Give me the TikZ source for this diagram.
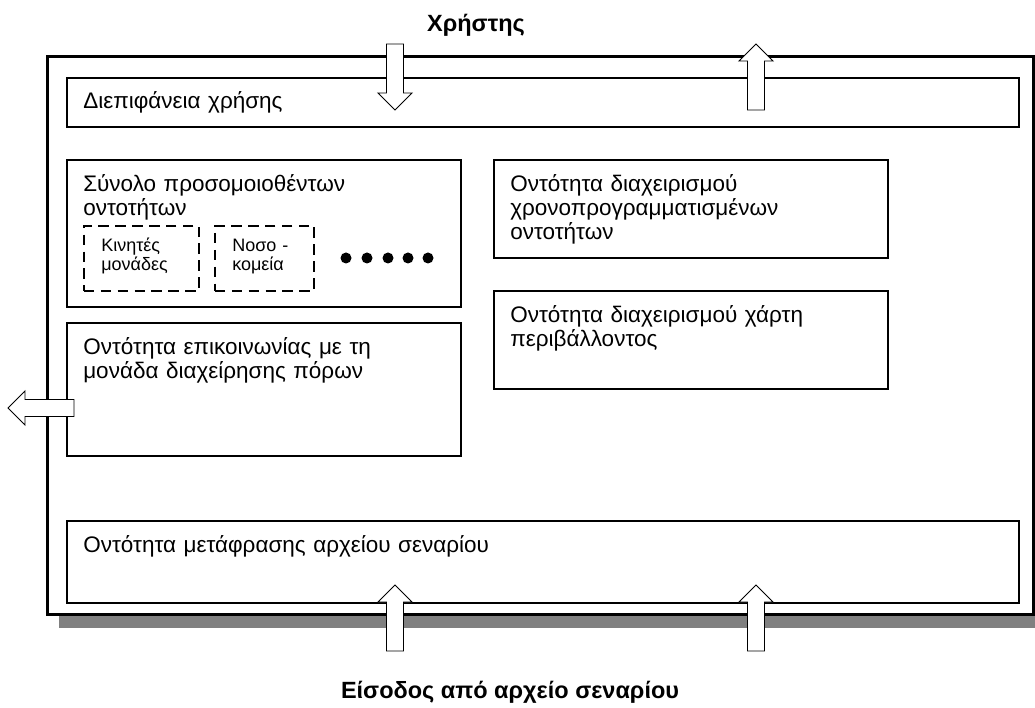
\documentclass[tikz,border=0pt]{standalone}
\usepackage{fontspec}
\setmainfont{Liberation Sans}
\usepackage{xcolor}
\usepackage{tikz}
\usetikzlibrary{positioning,calc}
\definecolor{frInk}{HTML}{000000}
\definecolor{frShadow}{HTML}{808080}
\newcommand{\px}{0.025cm}
\newcommand{\fatarrow}[2]{%
  \draw[fatarr,shift={#1},rotate=#2] (0,0) -- (-17,17) -- (-17,8.5) -- (-66,8.5)
    -- (-66,-8.5) -- (-17,-8.5) -- (-17,-17) -- cycle;}
\tikzset{
  framebox/.style={rectangle,anchor=north west,inner sep=0pt,
    draw=frInk,fill=white,line width=2.1pt},
  ebox/.style={rectangle,anchor=north west,inner sep=0pt,
    draw=frInk,fill=white,line width=1.3pt},
  dbox/.style={rectangle,anchor=north west,inner sep=0pt,
    draw=frInk,line width=1.3pt,dash pattern=on 7.5pt off 4.5pt},
  etxt/.style={anchor=base west,inner sep=0pt,align=left,
    text width=800*\px,font=\fontsize{16}{17}\selectfont,text=frInk},
  stxt/.style={anchor=base west,inner sep=0pt,align=left,
    text width=90*\px,font=\fontsize{12.8}{13}\selectfont,text=frInk},
  lbl/.style={inner sep=0pt,font=\fontsize{16.7}{20}\selectfont\bfseries,text=frInk},
  fatarr/.style={draw=frInk,fill=white,line width=0.7pt,line join=miter},
}

\begin{document}
\begin{tikzpicture}[x=0.025cm,y=-0.025cm]
  \useasboundingbox (0,0) rectangle (1035,708);

  \fill[frShadow] (59,68) rectangle (1045,628);
  \node[framebox,minimum width=986*\px,minimum height=558*\px] (frame) at (46,55) {};

  \node[ebox,minimum width=952*\px,minimum height=49*\px] (ui) at (66,77) {};
  \node[ebox,minimum width=394*\px,minimum height=147*\px] (sim) at (66,159) {};
  \node[ebox,minimum width=394*\px,minimum height=133*\px] (comm) at (66,322) {};
  \node[ebox,minimum width=394*\px,minimum height=98*\px] (sched) at (493,159) {};
  \node[ebox,minimum width=394*\px,minimum height=98*\px] (map) at (493,290) {};
  \node[ebox,minimum width=952*\px,minimum height=82*\px] (scen) at (66,520) {};

  \node[etxt] (uit) at ($(ui.north west)+(17,32)$) {Διεπιφάνεια χρήσης};
  \node[etxt] (simt) at ($(sim.north west)+(17,33)$)
    {Σύνολο προσομοιοθέντων\\οντοτήτων};
  \node[etxt] (commt) at ($(comm.north west)+(17,33)$)
    {Οντότητα επικοινωνίας με τη\\μονάδα διαχείρησης πόρων};
  \node[etxt] (schedt) at ($(sched.north west)+(17,33)$)
    {Οντότητα διαχειρισμού\\χρονοπρογραμματισμένων\\οντοτήτων};
  \node[etxt] (mapt) at ($(map.north west)+(17,33)$)
    {Οντότητα διαχειρισμού χάρτη\\περιβάλλοντος};
  \node[etxt] (scent) at ($(scen.north west)+(17,33)$)
    {Οντότητα μετάφρασης αρχείου σεναρίου};

  \node[dbox,minimum width=115*\px,minimum height=65*\px] (mob) at (83,225) {};
  \node[dbox,minimum width=99*\px,minimum height=65*\px] (hosp) at (214,225) {};
  \node[stxt] (mobt) at ($(mob.north west)+(18,27)$) {Κινητές\\μονάδες};
  \node[stxt] (hospt) at ($(hosp.north west)+(18,27)$) {Νοσο -\\κομεία};

  \foreach \x in {346,367,388,408,428}
    \fill[frInk] (\x,258) circle (5.5);

  \fatarrow{(395,110)}{-90}
  \fatarrow{(756,44)}{90}
  \fatarrow{(8,408)}{180}
  \fatarrow{(395,585)}{90}
  \fatarrow{(756,585)}{90}

  \node[lbl] (user) at (476,25) {Χρήστης};
  \node[lbl] (input) at (510,692) {Είσοδος από αρχείο σεναρίου};

\end{tikzpicture}
\end{document}
